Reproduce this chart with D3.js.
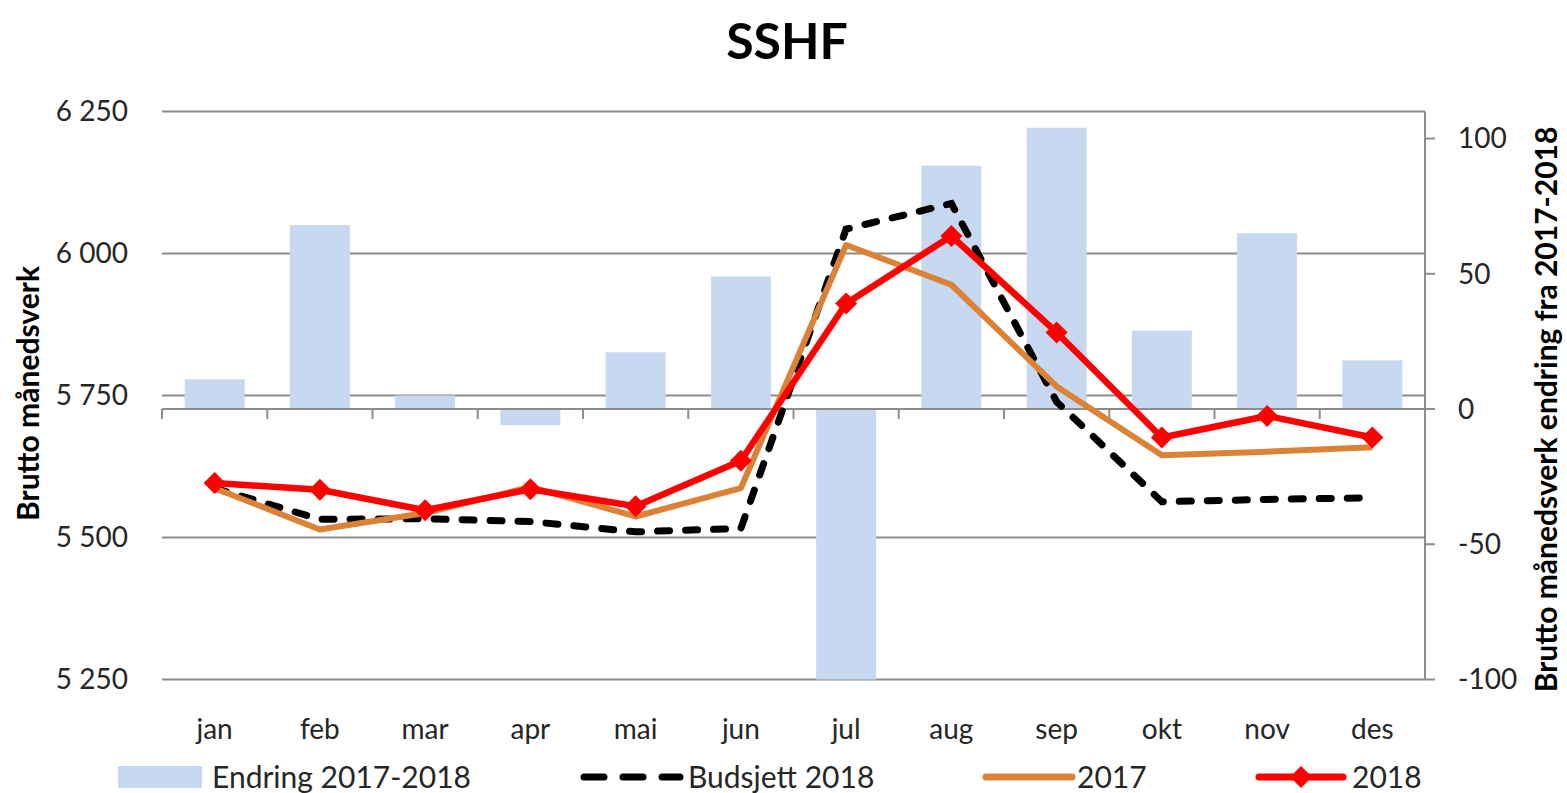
<!DOCTYPE html>
<html>
<head>
<meta charset="utf-8">
<script src="https://cdn.jsdelivr.net/npm/d3@7"></script>
<style>
  html, body { margin: 0; padding: 0; background: #fff; }
  svg { display: block; font-family: Lato, "Open Sans", sans-serif; }
</style>
</head>
<body>
<svg width="1567" height="793"></svg>
<script>
const months = ["jan", "feb", "mar", "apr", "mai", "jun", "jul", "aug", "sep", "okt", "nov", "des"];
const endring = [11, 68, 5, -6, 21, 49, -100, 90, 104, 29, 65, 18];
const budsjett2018 = [5587, 5532, 5533, 5528, 5510, 5516, 6043, 6088, 5739, 5563, 5567, 5570];
const y2017 = [5587, 5514, 5543, 5589, 5537, 5587, 6015, 5945, 5766, 5645, 5651, 5659];
const y2018 = [5596, 5584, 5548, 5585, 5555, 5635, 5912, 6031, 5861, 5676, 5714, 5676];
const leftTicks = [5250, 5500, 5750, 6000, 6250];
const rightTicks = [-100, -50, 0, 50, 100];

const margin = { top: 111.5, right: 142, bottom: 113.5, left: 162 };
const W = 1567, H = 793;
const width = W - margin.left - margin.right;
const height = H - margin.top - margin.bottom;

const svg = d3.select("svg");
const g = svg.append("g").attr("transform", `translate(${margin.left},${margin.top})`);

const x = d3.scaleBand().domain(months).range([0, width]).paddingInner(0.43).paddingOuter(0.215);
const xc = d3.scaleBand().domain(months).range([0, width]);
const y = d3.scaleLinear().domain([5250, 6250]).range([height, 0]);
const y2 = d3.scaleLinear().domain([-100, 110]).range([height, 0]);

const grey = "#8c8c8c";
const textCol = "#262626";
const fmt = d => d3.format(",")(d).replace(",", " ");

// title
svg.append("text")
    .attr("x", 787).attr("y", 59)
    .attr("text-anchor", "middle")
    .style("font-size", "50px").style("font-weight", "bold")
    .text("SSHF");

// grid
g.append("g").selectAll("line").data(leftTicks).join("line")
    .attr("x1", 0).attr("x2", width)
    .attr("y1", d => y(d)).attr("y2", d => y(d))
    .attr("stroke", grey).attr("stroke-width", 2);

// left labels
g.append("g").selectAll("text").data(leftTicks).join("text")
    .attr("x", -34).attr("y", d => y(d)).attr("dy", "0.35em")
    .attr("text-anchor", "end")
    .style("font-size", "28px").attr("fill", textCol)
    .text(fmt);

// bars
g.append("g").selectAll("rect").data(months).join("rect")
    .attr("x", (d) => x(d))
    .attr("width", x.bandwidth())
    .attr("y", (d, i) => Math.min(y2(endring[i]), y2(0)))
    .attr("height", (d, i) => Math.abs(y2(endring[i]) - y2(0)))
    .attr("fill", "#c6d9f1");

// category axis at 0 of right axis
const xAxis = g.append("g").attr("transform", `translate(0,${y2(0)})`);
xAxis.append("line").attr("x1", 0).attr("x2", width)
    .attr("stroke", grey).attr("stroke-width", 2);
xAxis.selectAll(".tk").data(months).join("line")
    .attr("class", "tk")
    .attr("x1", d => xc(d)).attr("x2", d => xc(d))
    .attr("y1", 0).attr("y2", 10)
    .attr("stroke", grey).attr("stroke-width", 2);

// x labels
g.append("g").selectAll("text").data(months).join("text")
    .attr("x", d => xc(d) + xc.bandwidth() / 2)
    .attr("y", height + 59)
    .attr("text-anchor", "middle")
    .style("font-size", "28px").attr("fill", textCol)
    .text(d => d);

// right axis
const rAxis = g.append("g").attr("transform", `translate(${width},0)`);
rAxis.append("line").attr("y1", 0).attr("y2", height)
    .attr("stroke", grey).attr("stroke-width", 2);
rAxis.selectAll("line.tk").data(rightTicks).join("line")
    .attr("class", "tk")
    .attr("x1", 0).attr("x2", 10)
    .attr("y1", d => y2(d)).attr("y2", d => y2(d))
    .attr("stroke", grey).attr("stroke-width", 2);
rAxis.selectAll("text").data(rightTicks).join("text")
    .attr("x", 33).attr("y", d => y2(d)).attr("dy", "0.35em")
    .style("font-size", "28px").attr("fill", textCol)
    .text(d => d);

// axis titles
svg.append("text")
    .attr("transform", `translate(39,${margin.top + height / 2 - 2}) rotate(-90)`)
    .attr("text-anchor", "middle")
    .style("font-size", "30px").style("font-weight", "bold")
    .text("Brutto månedsverk");
svg.append("text")
    .attr("transform", `translate(1557,${margin.top + height / 2 + 14}) rotate(-90)`)
    .attr("text-anchor", "middle")
    .style("font-size", "30px").style("font-weight", "bold")
    .text("Brutto månedsverk endring fra 2017-2018");

// lines
const cx = i => xc(months[i]) + xc.bandwidth() / 2;
const line = d3.line().x((d, i) => cx(i)).y(d => y(d));

g.append("path").datum(budsjett2018)
    .attr("d", line).attr("fill", "none")
    .attr("stroke", "#000").attr("stroke-width", 7)
    .attr("stroke-dasharray", "12 16").attr("stroke-linecap", "round");

g.append("path").datum(y2017)
    .attr("d", line).attr("fill", "none")
    .attr("stroke", "#dc8236").attr("stroke-width", 6)
    .attr("stroke-linejoin", "round");

g.append("path").datum(y2018)
    .attr("d", line).attr("fill", "none")
    .attr("stroke", "#ff0000").attr("stroke-width", 6.5)
    .attr("stroke-linejoin", "round");

const diamond = "M0,-11L11,0L0,11L-11,0Z";
g.append("g").selectAll("path").data(y2018).join("path")
    .attr("transform", (d, i) => `translate(${cx(i)},${y(d)})`)
    .attr("d", diamond).attr("fill", "#ff0000");

// legend
const leg = svg.append("g").style("font-size", "30px").attr("fill", textCol);
const ly = 777;
leg.append("rect").attr("x", 118).attr("y", ly - 11).attr("width", 84).attr("height", 22).attr("fill", "#c6d9f1");
leg.append("text").attr("x", 212).attr("y", ly).attr("dy", "0.35em").text("Endring 2017-2018");

leg.append("line").attr("x1", 584).attr("x2", 680).attr("y1", ly).attr("y2", ly)
    .attr("stroke", "#000").attr("stroke-width", 7)
    .attr("stroke-dasharray", "20 19").attr("stroke-linecap", "round");
leg.append("text").attr("x", 688).attr("y", ly).attr("dy", "0.35em").text("Budsjett 2018");

leg.append("line").attr("x1", 986).attr("x2", 1072).attr("y1", ly).attr("y2", ly)
    .attr("stroke", "#dc8236").attr("stroke-width", 7).attr("stroke-linecap", "round");
leg.append("text").attr("x", 1077).attr("y", ly).attr("dy", "0.35em").text("2017");

leg.append("line").attr("x1", 1259).attr("x2", 1343).attr("y1", ly).attr("y2", ly)
    .attr("stroke", "#ff0000").attr("stroke-width", 7).attr("stroke-linecap", "round");
leg.append("path").attr("transform", `translate(1301,${ly})`).attr("d", diamond).attr("fill", "#ff0000");
leg.append("text").attr("x", 1352).attr("y", ly).attr("dy", "0.35em").text("2018");
</script>
</body>
</html>
